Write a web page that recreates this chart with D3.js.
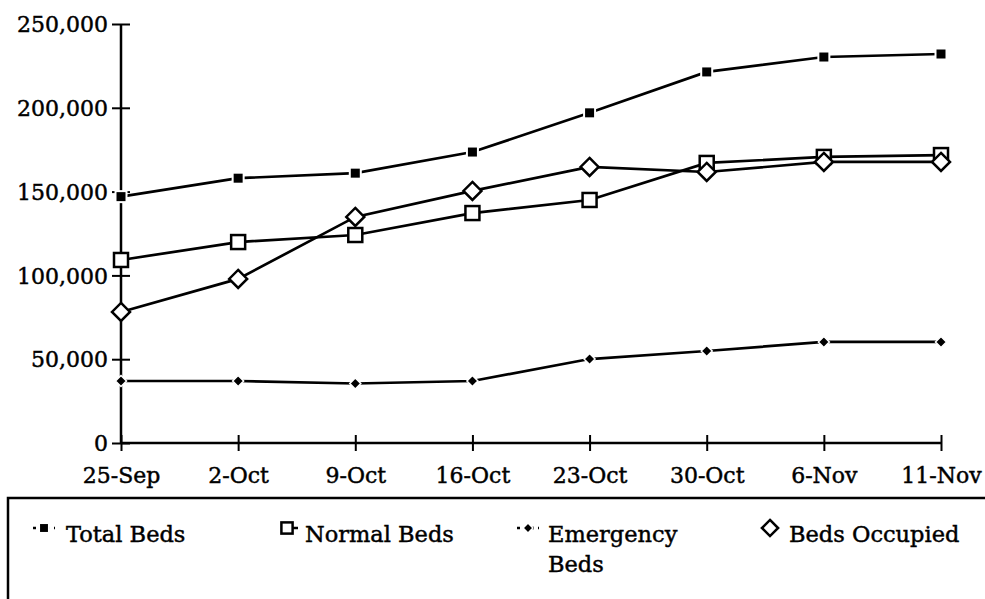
<!DOCTYPE html>
<html><head><meta charset="utf-8">
<script src="https://cdn.jsdelivr.net/npm/d3@7"></script>
<style>html,body{margin:0;padding:0;background:#fff;}svg{display:block;font-family:"DejaVu Serif",serif;}
text{stroke:#000;stroke-width:0.45px;}</style>
</head><body><svg id="c" width="985" height="599"></svg>
<script>
const categories = ["25-Sep","2-Oct","9-Oct","16-Oct","23-Oct","30-Oct","6-Nov","11-Nov"];
const totalBeds = [147000,158000,161000,173600,197000,221400,230300,232100];
const normalBeds = [109200,119900,124100,137200,145000,167100,170700,171800];
const emergencyBeds = [37000,37000,35500,37000,50100,54900,60300,60300];
const bedsOccupied = [78200,97900,134900,150400,164700,161700,167700,167700];
const yTicks = [0,50000,100000,150000,200000,250000];
const seriesNames = ["Total Beds","Normal Beds","Emergency Beds","Beds Occupied"];

const svg = d3.select("#c");
const x = d3.scalePoint().domain(categories).range([121,941]);
const y = d3.scaleLinear().domain([0,250000]).range([443,24]);
const fmt = d3.format(",");

// y axis
const ya = svg.append("g").attr("transform","translate(121,0)")
  .call(d3.axisLeft(y).tickValues(yTicks).tickFormat(fmt).tickSize(9).tickPadding(4));
ya.select(".domain").remove();
ya.selectAll(".tick line").attr("x1",-9).attr("x2",9).attr("stroke","#000").attr("stroke-width",2);
ya.selectAll(".tick text").attr("font-size",22).attr("font-family","DejaVu Serif").attr("fill","#000").attr("x",-13).attr("dy","0.35em");
svg.append("line").attr("x1",121).attr("x2",121).attr("y1",y(250000)).attr("y2",y(0)).attr("stroke","#000").attr("stroke-width",2.5);

// x axis
const xa = svg.append("g").attr("transform","translate(0,443)")
  .call(d3.axisBottom(x).tickSize(8).tickPadding(0));
xa.select(".domain").remove();
xa.selectAll(".tick line").attr("y1",-8).attr("y2",8).attr("stroke","#000").attr("stroke-width",2);
xa.selectAll(".tick text").attr("font-size",22).attr("font-family","DejaVu Serif").attr("fill","#000").attr("y",40).attr("dy",0);
svg.append("line").attr("x1",121).attr("x2",941).attr("y1",443).attr("y2",443).attr("stroke","#000").attr("stroke-width",2.5);

const line = d3.line().x((d,i)=>x(categories[i])).y(d=>y(d));
const series = [
  {name:seriesNames[0], v:totalBeds, marker:"sqFill"},
  {name:seriesNames[1], v:normalBeds, marker:"sqOpen"},
  {name:seriesNames[2], v:emergencyBeds, marker:"diaSmall"},
  {name:seriesNames[3], v:bedsOccupied, marker:"diaOpen"}
];
function drawMarker(g, type, cx, cy, scale){
  scale = scale||1;
  if(type==="sqFill"){
    const s=11*scale;
    g.append("rect").attr("x",cx-s/2).attr("y",cy-s/2).attr("width",s).attr("height",s)
     .attr("fill","#000").attr("stroke","#fff").attr("stroke-width",2);
  } else if(type==="sqOpen"){
    const s=14*scale;
    g.append("rect").attr("x",cx-s/2).attr("y",cy-s/2).attr("width",s).attr("height",s)
     .attr("fill","#fff").attr("stroke","#000").attr("stroke-width",2.5);
  } else if(type==="diaSmall"){
    const r=5.5*scale;
    g.append("path").attr("d",`M${cx},${cy-r}L${cx+r},${cy}L${cx},${cy+r}L${cx-r},${cy}Z`)
     .attr("fill","#000").attr("stroke","#fff").attr("stroke-width",1.5);
  } else {
    const r=9*scale;
    g.append("path").attr("d",`M${cx},${cy-r}L${cx+r},${cy}L${cx},${cy+r}L${cx-r},${cy}Z`)
     .attr("fill","#fff").attr("stroke","#000").attr("stroke-width",2.5);
  }
}
series.forEach(s=>{
  svg.append("path").attr("d",line(s.v)).attr("fill","none").attr("stroke","#000").attr("stroke-width",2.7);
});
series.forEach(s=>{
  const g = svg.append("g");
  s.v.forEach((d,i)=>drawMarker(g,s.marker,x(categories[i]),y(d)));
});

// legend
svg.append("path").attr("d","M8,605V498H990").attr("fill","none").attr("stroke","#000").attr("stroke-width",2.5);
const leg = [
  {mx:44, tx:66},
  {mx:287, tx:305},
  {mx:528, tx:548},
  {mx:770, tx:789}
];
series.forEach((s,i)=>{
  const L=leg[i], cy=528;
  const g=svg.append("g");
  if(s.marker==="sqFill"||s.marker==="diaSmall"){
    g.append("line").attr("x1",L.mx-11).attr("x2",L.mx+11).attr("y1",cy).attr("y2",cy)
     .attr("stroke","#000").attr("stroke-width",2.5).attr("stroke-dasharray","3,4");
  } else if(s.marker==="sqOpen"){
    g.append("line").attr("x1",L.mx).attr("x2",L.mx+11).attr("y1",cy).attr("y2",cy)
     .attr("stroke","#000").attr("stroke-width",2.5);
  }
  drawMarker(g,s.marker,L.mx,cy,s.marker==="sqOpen"?0.8:0.9);
  const words = s.name==="Emergency Beds" ? ["Emergency","Beds"] : [s.name];
  words.forEach((w,k)=>{
    svg.append("text").attr("x",L.tx).attr("y",542+k*30).attr("font-size",22.5)
      .attr("font-family","DejaVu Serif").attr("fill","#000").text(w);
  });
});
</script></body></html>
